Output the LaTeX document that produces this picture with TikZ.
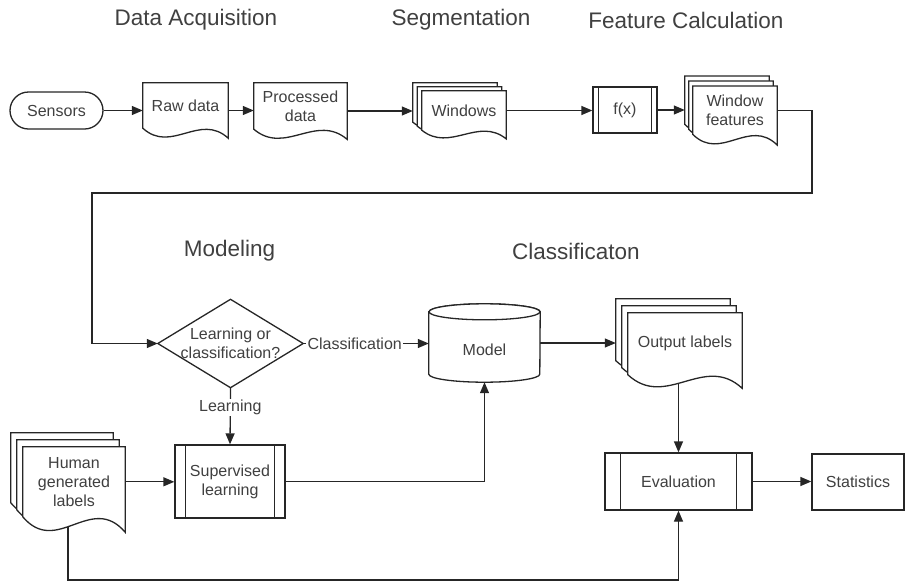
\documentclass[tikz,border=0pt]{standalone}
\usepackage{fontspec}
\setmainfont{Liberation Sans}
\usetikzlibrary{arrows.meta,calc}
\pgfdeclarelayer{edges}
\pgfdeclarelayer{shapes}
\pgfsetlayers{edges,shapes,main}
\colorlet{ink}{black!85}
\colorlet{txt}{black!75}

% document sheet with a wavy lower edge, drawn round the text area of node #1,
% moved up-left by #2 (x) and #3 (y) for the sheets behind a stack
\newcommand\sheet[3]{%
  \path[shapeline] let \p1=($(#1.north west)+(-#2,-#3)$),
                       \p2=($(#1.south east)+(-#2,-#3)$),
                       \n1={0.22*(\y1-\y2)} in
    (\x1,\y1) -- (\x2,\y1) -- (\x2,{\y2-\n1*1pt})
    .. controls ({(\x1+2*\x2)/3},{\y2+1.6*\n1*1pt})
           and ({(2*\x1+\x2)/3},{\y2-2.6*\n1*1pt}) .. (\x1,\y2) -- cycle;}

% the two inner bars of a predefined-process box
\newcommand\bars[2]{%
  \draw[conn] ($(#1.north west)+(#2,0)$) -- ($(#1.south west)+(#2,0)$)
              ($(#1.north east)+(-#2,0)$) -- ($(#1.south east)+(-#2,0)$);}

\begin{document}
\begin{tikzpicture}[x=1pt,y=-1pt,
  base/.style={font=\fontsize{16}{19}\selectfont, text=txt, align=center, inner sep=0pt},
  docbox/.style={base},
  box/.style={base, draw=ink, fill=white, line width=1.3pt},
  shapeline/.style={draw=ink, fill=white, line width=1.3pt, line join=miter},
  conn/.style={draw=ink, line width=1.3pt},
  arr/.style={conn, -{Triangle[length=11pt,width=9pt]}},
  title/.style={font=\fontsize{22.5}{26}\selectfont, text=txt},
  lab/.style={base, fill=white, inner xsep=1.5pt, inner ysep=1pt}]

\useasboundingbox (0,0) rectangle (906,582);

% stage titles
\node[title] (t-acq)  at (196,20)    {Data Acquisition};
\node[title] (t-seg)  at (461,20)    {Segmentation};
\node[title] (t-feat) at (686,20)    {Feature Calculation};
\node[title] (t-mod)  at (229.5,251) {Modeling};
\node[title] (t-cls)  at (576,251)   {Classificaton};

% top row
\node[box, rounded corners=18.5pt, minimum width=93, minimum height=37] (sens) at (56.5,110.5) {Sensors};
\node[docbox, minimum width=85, minimum height=45] (raw)  at (185.5,105.5) {Raw data};
\node[docbox, minimum width=93, minimum height=46] (proc) at (300.5,106)   {Processed\\data};
\node[docbox, minimum width=84, minimum height=39] (win)  at (464,110.5)   {Windows};
\node[box, minimum width=64, minimum height=46]    (fx)   at (625,110)     {f(x)};
\bars{fx}{6}
\node[docbox, minimum width=84, minimum height=48] (wf)   at (735,110.2)   {Window\\features};

% modelling and classification
\node[base, minimum width=145, minimum height=88] (dec) at (230.5,343.5) {Learning or\\classification?};
\node[base, minimum width=111, minimum height=78, text height=25pt, text depth=0pt] (model) at (484.5,343) {Model};
\node[docbox, minimum width=114, minimum height=61.5] (out) at (685,343.75) {Output labels};

% bottom row
\node[docbox, minimum width=102, minimum height=69.7] (hum) at (74,481.8) {Human\\generated\\labels};
\node[box, minimum width=110, minimum height=73] (sup)  at (230,481.5)   {Supervised\\learning};
\bars{sup}{11}
\node[box, minimum width=147, minimum height=57] (eval) at (678.5,481.5) {Evaluation};
\bars{eval}{16}
\node[box, minimum width=92, minimum height=56]  (stat) at (858,482)     {Statistics};

% outlines of sheets, decision and store
\begin{pgfonlayer}{shapes}
  \sheet{raw}{0}{0}
  \sheet{proc}{0}{0}
  \sheet{win}{9}{8}   \sheet{win}{4.5}{4} \sheet{win}{0}{0}
  \sheet{wf}{8}{10}   \sheet{wf}{4}{5}    \sheet{wf}{0}{0}
  \sheet{out}{12}{14} \sheet{out}{6}{7}   \sheet{out}{0}{0}
  \sheet{hum}{12}{14} \sheet{hum}{6}{7}   \sheet{hum}{0}{0}
  \path[shapeline] (dec.west) -- (dec.north) -- (dec.east) -- (dec.south) -- cycle;
  \path[shapeline] ($(model.north west)+(0,8)$) -- ($(model.south west)+(0,-8)$)
    arc[start angle=180, end angle=360, x radius=55.5pt, y radius=8pt]
    -- ($(model.north east)+(0,8)$)
    arc[start angle=0, end angle=180, x radius=55.5pt, y radius=8pt] -- cycle;
  \path[shapeline] ($(model.north)+(0,8)$) ellipse [x radius=55.5pt, y radius=8pt];
\end{pgfonlayer}

% connector end points
\coordinate (raw-r)  at ($(raw.east)+(0,5)$);
\coordinate (proc-r) at ($(proc.east)+(0,5)$);
\coordinate (win-in) at ($(win.west)+(-9,0)$);
\coordinate (wf-in)  at ($(wf.west)+(-8,0)$);
\coordinate (out-in) at ($(out.west)+(-12,0)$);
\coordinate (loop-r) at (812,193);
\coordinate (loop-l) at (92,193);
\coordinate (hum-out) at ($(hum.center)+(-6,0)$);
\coordinate (bot) at (eval.south |- 0,580);

\begin{pgfonlayer}{edges}
  \draw[arr] (sens.east) -- (sens.east -| raw.west);
  \draw[arr] (raw-r) -- (raw-r -| proc.west);
  \draw[arr] (proc-r) -- (proc-r -| win-in);
  \draw[arr] (win.east) -- (win.east -| fx.west);
  \draw[arr] (fx.east) -- (fx.east -| wf-in);
  \draw[arr] (wf.east) -| (loop-r) -- (loop-l) |- (dec.west);
  \draw[arr] (model.east) -- (model.east -| out-in);
  \draw[arr] (out.center -| eval.north) -- (eval.north);
  \draw[arr] (hum.east) -- (hum.east -| sup.west);
  \draw[arr] (sup.east) -| (model.south);
  \draw[arr] (hum-out) |- (bot) -- (eval.south);
  \draw[arr] (eval.east) -- (eval.east -| stat.west);
  \draw[arr] (dec.east) -- (dec.east -| model.west)
    node[lab, pos=0.41] (lab-cls) {Classification};
  \draw[arr] (dec.south) -- (sup.north)
    node[lab, pos=0.35] (lab-learn) {Learning};
\end{pgfonlayer}
\end{tikzpicture}
\end{document}
